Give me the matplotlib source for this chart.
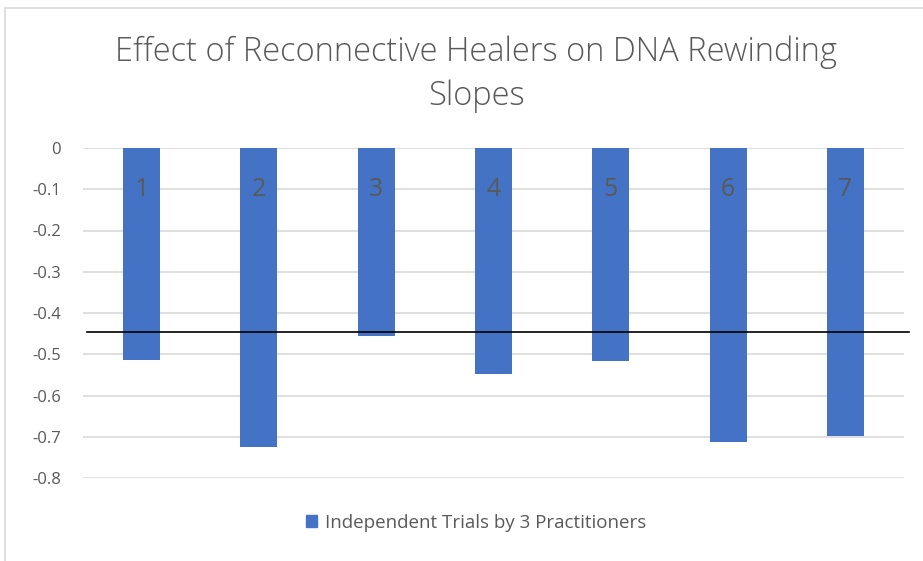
import matplotlib.pyplot as plt
from matplotlib.patches import Rectangle, Patch
import numpy as np

trials = ['1', '2', '3', '4', '5', '6', '7']
slopes = [-0.515, -0.725, -0.455, -0.548, -0.516, -0.713, -0.698]
ref_line = -0.445
yticks = [0, -0.1, -0.2, -0.3, -0.4, -0.5, -0.6, -0.7, -0.8]
ytick_labels = ['0', '-0.1', '-0.2', '-0.3', '-0.4', '-0.5', '-0.6', '-0.7', '-0.8']

plt.rcParams['font.family'] = ['Open Sans', 'DejaVu Sans']
grey = '#595959'
blue = '#4472C4'

W, H = 923, 561
fig = plt.figure(figsize=(W / 100, H / 100), dpi=100)

# chart area border
fig.patches.append(Rectangle((5 / W, -0.01), 1.0, (H - 8) / H + 0.01, transform=fig.transFigure,
                             fill=False, edgecolor='#d9d9d9', linewidth=1.2))

ax = fig.add_axes([83 / W, (H - 478) / H, (904 - 83) / W, (478 - 148) / H])
x = np.arange(len(trials))
ax.bar(x, slopes, width=0.315, color=blue, zorder=3)

for xi, lab in zip(x, trials):
    ax.text(xi, -0.1, lab, ha='center', va='center', fontsize=18, color=grey, zorder=4)

ax.plot([-0.47, 6.54], [ref_line, ref_line], color='black', linewidth=1.2, zorder=5, clip_on=False)

ax.set_xlim(-0.5, 6.5)
ax.set_ylim(-0.8, 0)
ax.set_yticks(yticks)
ax.set_yticklabels(ytick_labels)
ax.set_xticks([])
ax.tick_params(axis='y', length=0, labelsize=12, labelcolor=grey, pad=16)
for lbl in ax.get_yticklabels():
    lbl.set_horizontalalignment('right')
ax.yaxis.grid(True, color='#d9d9d9', linewidth=1.2, zorder=0)
for s in ax.spines.values():
    s.set_visible(False)

fig.text(476 / W, 1 - 52 / H, 'Effect of Reconnective Healers on DNA Rewinding', ha='center', va='center',
         fontsize=23.5, color=grey, fontweight='light')
fig.text(476 / W, 1 - 96 / H, 'Slopes', ha='center', va='center',
         fontsize=23.5, color=grey, fontweight='light')

fig.legend(handles=[Patch(color=blue, label='Independent Trials by 3 Practitioners')],
           loc='center', bbox_to_anchor=(476 / W, 1 - 523 / H), frameon=False,
           fontsize=13.5, labelcolor=grey, handlelength=0.6, handleheight=0.6, handletextpad=0.4)

fig.savefig('out.png', dpi=100)
